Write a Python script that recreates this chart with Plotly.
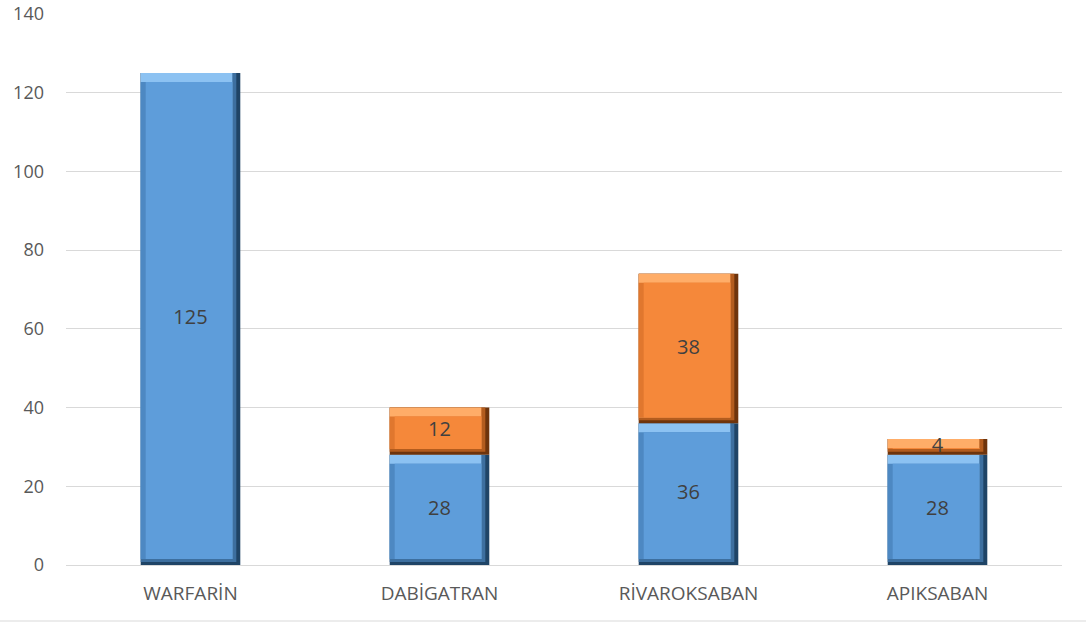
import plotly.graph_objects as go

# Hasta sayıları: ilaç başına iki grup (mavi alt, turuncu üst)
categories = ["WARFARİN", "DABİGATRAN", "RİVAROKSABAN", "APIKSABAN"]
blue_values = [125, 28, 36, 28]
orange_values = [0, 12, 38, 4]
y_ticks = [0, 20, 40, 60, 80, 100, 120, 140]

# bevel palettes: face, light top, mid left, shade and dark right/bottom
BLUE = dict(face="#5E9DDA", light="#8CC2F2", mid="#4D88C2",
            shade="#3D6F9F", dark="#1F4466")
ORANGE = dict(face="#F5883A", light="#FFAD68", mid="#E0772E",
              shade="#B35C1E", dark="#6E340C")

BAR_W = 0.40       # bar width in category units
LEFT_W = 0.02      # left bevel width
EDGE_W = 0.016     # each step of the right bevel
TOP_H = 2.3        # top bevel height (data units)
EDGE_H = 0.75      # each step of the bottom bevel (data units)

FONT = "Open Sans, Liberation Sans, sans-serif"

fig = go.Figure()


def layer(y, base, offset, width, color):
    fig.add_trace(go.Bar(
        x=categories, y=y, base=base, offset=offset, width=width,
        marker=dict(color=color, line=dict(width=0)),
        hoverinfo="skip", showlegend=False,
    ))


def add_bevel_bar(values, bases, pal):
    left = -BAR_W / 2

    def trimmed(bottom, top):
        hs = [max(v - bottom - top, 0) if v > 0 else 0 for v in values]
        bs = [b + min(bottom, v) for v, b in zip(values, bases)]
        return hs, bs

    # outer silhouette, darkest on right and bottom
    layer(values, bases, left, BAR_W, pal["dark"])
    h, b = trimmed(EDGE_H, 0)
    layer(h, b, left, BAR_W - EDGE_W, pal["shade"])
    # light top strip
    h, b = trimmed(2 * EDGE_H, 0)
    layer(h, b, left, BAR_W - 2 * EDGE_W, pal["light"])
    # mid-tone left edge
    h, b = trimmed(2 * EDGE_H, TOP_H)
    layer(h, b, left, BAR_W - 2 * EDGE_W, pal["mid"])
    # flat face
    layer(h, b, left + LEFT_W, BAR_W - 2 * EDGE_W - LEFT_W, pal["face"])


add_bevel_bar(blue_values, [0] * len(blue_values), BLUE)
add_bevel_bar(orange_values, blue_values, ORANGE)

# value labels centred on each segment
lbl_x, lbl_y, lbl_t = [], [], []
for c, b, o in zip(categories, blue_values, orange_values):
    if b > 0:
        lbl_x.append(c); lbl_y.append(b / 2); lbl_t.append(str(b))
    if o > 0:
        lbl_x.append(c); lbl_y.append(b + o / 2); lbl_t.append(str(o))

fig.add_trace(go.Scatter(
    x=lbl_x, y=lbl_y, text=lbl_t, mode="text",
    textfont=dict(family=FONT, size=20, color="#404040"),
    hoverinfo="skip", showlegend=False,
))

fig.update_layout(
    barmode="overlay",
    width=1086, height=626,
    margin=dict(l=66, r=24, t=14, b=61, autoexpand=False),
    paper_bgcolor="white", plot_bgcolor="white",
    font=dict(family=FONT, size=18, color="#595959"),
    xaxis=dict(
        showgrid=False, showline=True, linecolor="#D9D9D9", linewidth=1,
        ticks="", tickfont=dict(size=19, color="#595959"),
        ticklabelstandoff=11, automargin=False,
    ),
    yaxis=dict(
        range=[0, 140], tickvals=y_ticks, showgrid=True, gridcolor="#D9D9D9",
        gridwidth=1, zeroline=False, showline=False, ticks="",
        tickfont=dict(size=18, color="#595959"), ticklabelstandoff=21,
        automargin=False,
    ),
    shapes=[dict(
        type="line", xref="paper", yref="paper",
        x0=-66 / 996, x1=1 + 24 / 996, y0=-56 / 551, y1=-56 / 551,
        line=dict(color="#D9D9D9", width=1),
    )],
)

fig.write_html("out.html")
